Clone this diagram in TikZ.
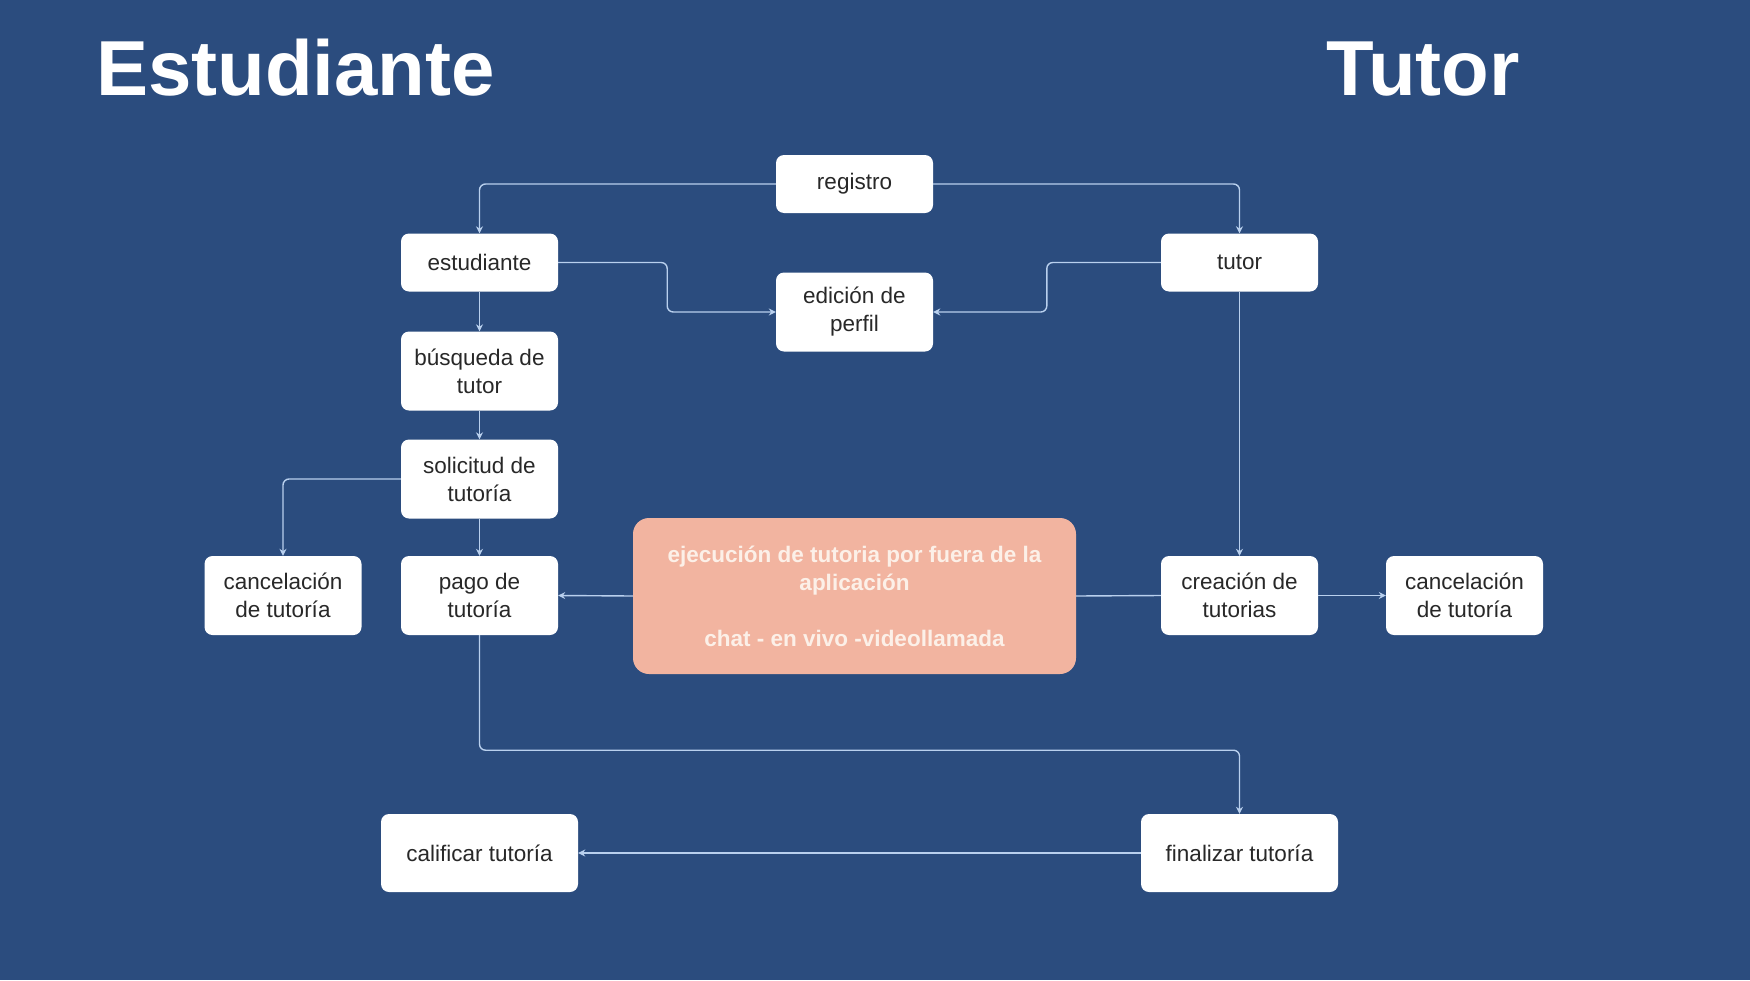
\documentclass[tikz,border=0pt]{standalone}
\usepackage{fontspec}
\setmainfont{Liberation Sans}
\usetikzlibrary{arrows.meta,calc}
\definecolor{bg}{RGB}{43,76,126}
\definecolor{conncol}{RGB}{185,208,238}
\definecolor{salmon}{RGB}{242,180,160}
\definecolor{cream}{RGB}{252,240,232}
\definecolor{boxtext}{RGB}{40,40,40}
\tikzset{
  box/.style={draw=none, fill=white, rounded corners=8pt, align=center,
    minimum width=157pt, minimum height=58pt, inner sep=2pt,
    font=\fontsize{22.5}{28}\selectfont, text=boxtext},
  tall/.style={minimum height=79pt},
  wide/.style={minimum width=197pt, minimum height=78pt},
  conn/.style={draw=conncol, line width=1.4pt, rounded corners=6pt,
    -{Stealth[length=7pt,width=7pt]}},
  plain/.style={draw=conncol, line width=1.4pt},
  title/.style={text=white, font=\fontsize{78}{80}\selectfont\bfseries, anchor=base west, inner sep=0pt}
}
\begin{document}
\begin{tikzpicture}[x=1pt,y=-1pt]
\fill[bg] (0,0) rectangle (1750,980);
\useasboundingbox (0,0) rectangle (1750,980);

\node[title] (tE) at (96,95) {Estudiante};
\node[title] (tT) at (1326,95) {Tutor};

\node[box] (reg) at (854.5,184) {registro};
\node[box] (est) at (479.5,262.5) {estudiante};
\node[box,tall] (edi) at (854.5,312) {edición de\\perfil};
\node[box] (tut) at (1239.5,262.5) {tutor};
\node[box,tall] (bus) at (479.5,371) {búsqueda de\\tutor};
\node[box,tall] (sol) at (479.5,479) {solicitud de\\tutoría};
\node[box,tall] (canL) at (283,595.5) {cancelación\\de tutoría};
\node[box,tall] (pago) at (479.5,595.5) {pago de\\tutoría};
\node[box,tall] (crea) at (1239.5,595.5) {creación de\\tutorias};
\node[box,tall] (canR) at (1464.5,595.5) {cancelación\\de tutoría};
\node[box,wide] (cal) at (479.5,853) {calificar tutoría};
\node[box,wide] (fin) at (1239.5,853) {finalizar tutoría};
\node[draw=none, fill=salmon, rounded corners=16pt, minimum width=443pt, minimum height=156pt,
  align=center, text=cream, font=\fontsize{22.5}{28}\selectfont\bfseries] (ejec) at (854.5,596)
  {ejecución de tutoria por fuera de la\\aplicación\\[28pt]chat - en vivo -videollamada};

\draw[conn] (reg.west) -| (est.north);
\draw[conn] (reg.east) -| (tut.north);
\draw[conn] (est.east) -- ++(109,0) |- (edi.west);
\draw[conn] (tut.west) -- ++(-114,0) |- (edi.east);
\draw[conn] (est.south) -- (bus.north);
\draw[conn] (bus.south) -- (sol.north);
\draw[conn] (sol.south) -- (pago.north);
\draw[conn] (sol.west) -| (canL.north);
\draw[conn] (tut.south) -- (crea.north);
\draw[plain] (crea.west) -- (ejec.east);
\draw[conn] (ejec.west) -- (pago.east);
\draw[conn] (crea.east) -- (canR.west);
\draw[conn] (pago.south) -- ++(0,115) -| (fin.north);
\draw[conn] (fin.west) -- (cal.east);
\end{tikzpicture}
\end{document}
